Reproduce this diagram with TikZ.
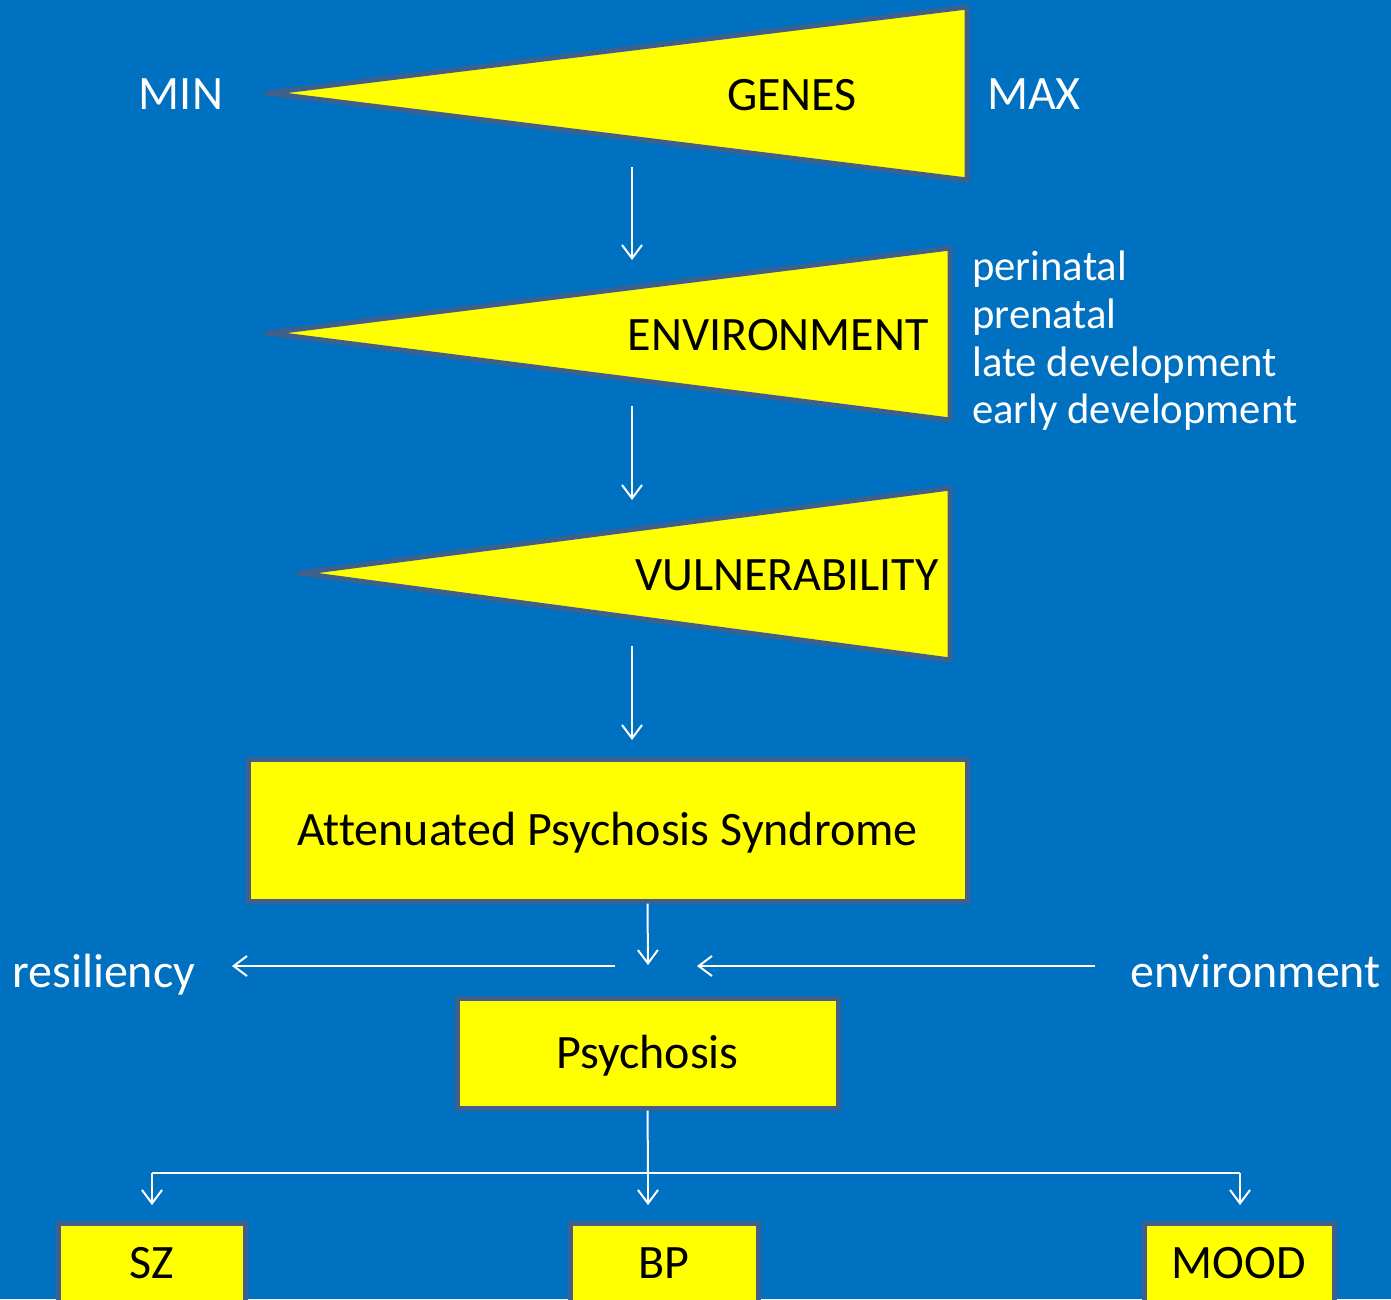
\documentclass[tikz,border=0pt]{standalone}
\usepackage{fontspec}
\setmainfont{Carlito}[Ligatures=NoCommon]
\usetikzlibrary{arrows.meta}
\definecolor{bg}{HTML}{0070C0}
\definecolor{edgec}{HTML}{3F5F8C}
\definecolor{yel}{HTML}{FFFF00}
\begin{document}
\begin{tikzpicture}[x=0.75pt,y=-0.75pt,
  tri/.style={draw=edgec,line width=3.75pt,fill=yel,line join=round},
  box/.style={draw=edgec,line width=3.75pt,fill=yel,rectangle,inner sep=0pt,font=\fontsize{36}{43}\selectfont,text height=23.2pt,text depth=0pt},
  wtxt/.style={font=\fontsize{36}{43}\selectfont,text=white,inner sep=0pt},
  stxt/.style={font=\fontsize{32}{38}\selectfont,text=white,inner sep=0pt},
  btxt/.style={font=\fontsize{36}{43}\selectfont,text=black,inner sep=0pt},
  conn/.style={draw=white,line width=1.5pt},
  arr/.style={conn,-{Straight Barb[length=10pt,width=15pt]}}]
\fill[bg] (0,0) rectangle (1391,1299);
\useasboundingbox (0,0) rectangle (1391,1299);
\clip (0,0) rectangle (1391,1299);
% triangles
\draw[tri] (267,93) -- (967,7) -- (967,180) -- cycle;
\draw[tri] (267,333) -- (950,248) -- (950,420) -- cycle;
\draw[tri] (299,573) -- (950,488) -- (950,660) -- cycle;
\node[btxt,anchor=base] (genes) at (792,110) {GENES};
\node[wtxt,anchor=base] (min) at (181,109) {MIN};
\node[wtxt,anchor=base] (max) at (1034,109) {MAX};
\node[btxt,anchor=base east] (env) at (929,350) {ENVIRONMENT};
\node[btxt,anchor=base east] (vul) at (939,590) {VULNERABILITY};
\node[stxt,anchor=base west] (l1) at (972,280) {perinatal};
\node[stxt,anchor=base west] (l2) at (972,328) {prenatal};
\node[stxt,anchor=base west] (l3) at (972,376) {late development};
\node[stxt,anchor=base west] (l4) at (972,423) {early development};
% arrows between triangles
\coordinate (a1s) at (632,167); \coordinate (a1e) at (632,260);
\coordinate (a2s) at (632,406); \coordinate (a2e) at (632,500);
\coordinate (a3s) at (632,646); \coordinate (a3e) at (632,740);
\draw[arr] (a1s) -- (a1e);
\draw[arr] (a2s) -- (a2e);
\draw[arr] (a3s) -- (a3e);
% boxes
\node[box,minimum width=719*0.75pt,minimum height=142*0.75pt] (aps) at (607.5,830) {Attenuated Psychosis Syndrome};
\node[box,minimum width=381*0.75pt,minimum height=110*0.75pt] (psy) at (647.5,1053) {Psychosis};
\node[box,minimum width=187*0.75pt,minimum height=80*0.75pt] (sz) at (151.5,1263) {SZ};
\node[box,minimum width=188*0.75pt,minimum height=80*0.75pt] (bp) at (664,1263) {BP};
\node[box,minimum width=190*0.75pt,minimum height=80*0.75pt] (mood) at (1239,1263) {MOOD};
% middle arrows
\coordinate (m1) at (648,965);
\draw[arr] (aps.south -| psy.north) -- (m1);
\node[wtxt,anchor=base west] (res) at (12,987) {resiliency};
\node[wtxt,anchor=base east] (envr) at (1381,987) {environment};
\coordinate (ls) at (615,966); \coordinate (le) at (232,966);
\coordinate (rs) at (1095,966); \coordinate (re) at (697,966);
\draw[arr] (ls) -- (le);
\draw[arr] (rs) -- (re);
% fork
\coordinate (fk) at (648,1173);
\coordinate (fl) at (152,1173);
\coordinate (fr) at (1240,1173);
\draw[conn] (psy.south) -- (fk);
\draw[conn] (fl) -- (fr);
\draw[arr] (fl) -- (152,1205);
\draw[arr] (fk) -- (648,1205);
\draw[arr] (fr) -- (1240,1205);
\end{tikzpicture}
\end{document}
